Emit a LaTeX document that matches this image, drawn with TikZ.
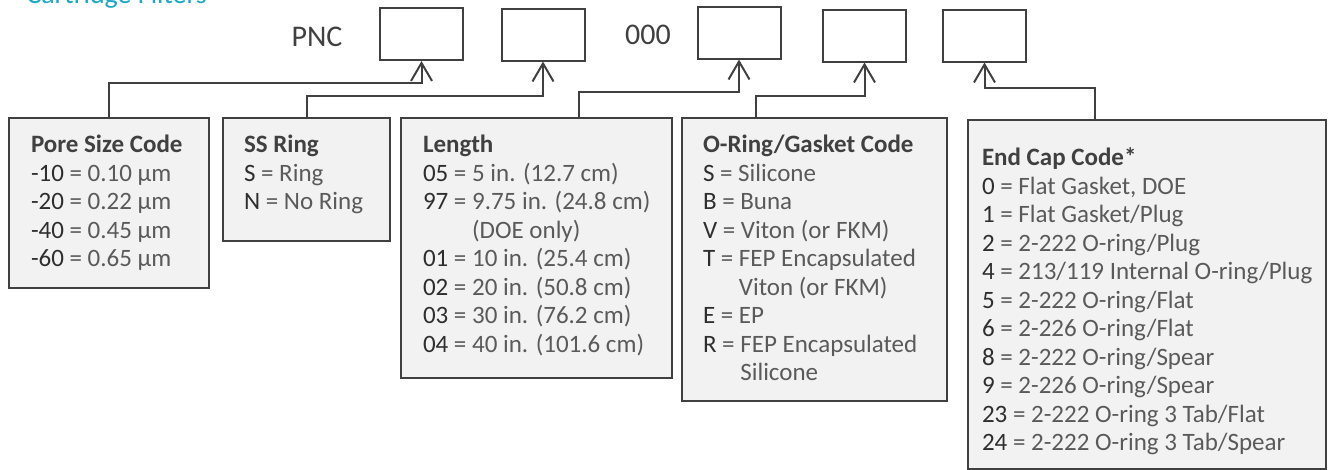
\documentclass[tikz,border=0pt]{standalone}
\usepackage{fontspec}
\setmainfont{Carlito}
\usetikzlibrary{arrows.meta, positioning}
\definecolor{cline}{HTML}{404040}
\definecolor{cfill}{HTML}{F2F2F2}
\definecolor{ctext}{HTML}{5A5A5A}
\definecolor{ccode}{HTML}{2E2E2E}
\definecolor{cteal}{HTML}{19A9C4}
\newcommand\kc[1]{{\color{ccode}#1}}
\tikzset{
  every picture/.style={line width=2pt},
  slot/.style={draw=cline, fill=white, minimum width=83pt, minimum height=52pt, inner sep=0pt},
  card/.style={draw=cline, fill=cfill, inner sep=0pt, anchor=north west},
  entry/.style={anchor=north west, align=left, text=ctext, inner sep=0pt},
  head/.style={font=\fontsize{30}{36}\selectfont, text=cline},
  link/.style={draw=cline, -{Straight Barb[length=18pt, width=21pt]}},
}

\begin{document}
\begin{tikzpicture}[x=1pt, y=1pt, font=\fontsize{25}{28.5}\selectfont]
  \useasboundingbox (0,0) rectangle (1328,-469);
  \node[anchor=base west, text=cteal, font=\fontsize{28}{34}\selectfont] (title) at (22,-3) {Cartridge Filters};
  % part number slots
  \node[head] (pnc) at (317,-37) {PNC};
  \node[slot] (s1) at (421.5,-34) {};
  \node[slot] (s2) at (543,-34.5) {};
  \node[head] (zeros) at (648,-35) {000};
  \node[slot] (s3) at (739,-32.5) {};
  \node[slot] (s4) at (864.5,-35.5) {};
  \node[slot] (s5) at (984.5,-35.5) {};
  % code cards
  \node[card, minimum width=200pt, minimum height=170pt] (pore) at (8,-117) {};
  \node[card, minimum width=167pt, minimum height=123pt] (ss) at (222,-117) {};
  \node[card, minimum width=271pt, minimum height=260pt] (len) at (400,-117) {};
  \node[card, minimum width=265pt, minimum height=283pt] (ring) at (681,-117) {};
  \node[card, minimum width=358pt, minimum height=349pt] (cap) at (967,-119) {};
  \node[entry] (poretxt) at ([shift={(22pt,-17pt)}]pore.north west) {\textbf{\color{cline}Pore Size Code}\\
    \kc{-10} = 0.10 µm\\ \kc{-20} = 0.22 µm\\ \kc{-40} = 0.45 µm\\ \kc{-60} = 0.65 µm};
  \node[entry] (sstxt) at ([shift={(21pt,-17pt)}]ss.north west) {\textbf{\color{cline}SS Ring}\\
    \kc{S} = Ring\\ \kc{N} = No Ring};
  \node[entry] (lentxt) at ([shift={(22pt,-17pt)}]len.north west) {\textbf{\color{cline}Length}\\
    \kc{05} = 5 in. (12.7 cm)\\ \kc{97} = 9.75 in. (24.8 cm)\\ \phantom{\kc{97} = }(DOE only)\\
    \kc{01} = 10 in. (25.4 cm)\\ \kc{02} = 20 in. (50.8 cm)\\ \kc{03} = 30 in. (76.2 cm)\\
    \kc{04} = 40 in. (101.6 cm)};
  \node[entry] (ringtxt) at ([shift={(21pt,-17pt)}]ring.north west) {\textbf{\color{cline}O-Ring/Gasket Code}\\
    \kc{S} = Silicone\\ \kc{B} = Buna\\ \kc{V} = Viton (or FKM)\\ \kc{T} = FEP Encapsulated\\
    \phantom{\kc{T} = }Viton (or FKM)\\ \kc{E} = EP\\ \kc{R} = FEP Encapsulated\\ \phantom{\kc{R} = }Silicone};
  \node[entry] (captxt) at ([shift={(14pt,-28pt)}]cap.north west) {\textbf{\color{cline}End Cap Code*}\\
    \kc{0} = Flat Gasket, DOE\\ \kc{1} = Flat Gasket/Plug\\ \kc{2} = 2-222 O-ring/Plug\\
    \kc{4} = 213/119 Internal O-ring/Plug\\ \kc{5} = 2-222 O-ring/Flat\\ \kc{6} = 2-226 O-ring/Flat\\
    \kc{8} = 2-222 O-ring/Spear\\ \kc{9} = 2-226 O-ring/Spear\\ \kc{23} = 2-222 O-ring 3 Tab/Flat\\
    \kc{24} = 2-222 O-ring 3 Tab/Spear};
  % connectors
  \draw[link] (pore.north) -- ++(0,34) -| (s1.south);
  \draw[link] (ss.north) -- ++(0,21) -| (s2.south);
  \draw[link] ([xshift=42pt]len.north) -- ++(0,25) -| (s3.south);
  \draw[link] ([xshift=-59pt]ring.north) -- ++(0,21) -| (s4.south);
  \draw[link] ([xshift=-52pt]cap.north) -- ++(0,31) -| (s5.south);
\end{tikzpicture}
\end{document}
